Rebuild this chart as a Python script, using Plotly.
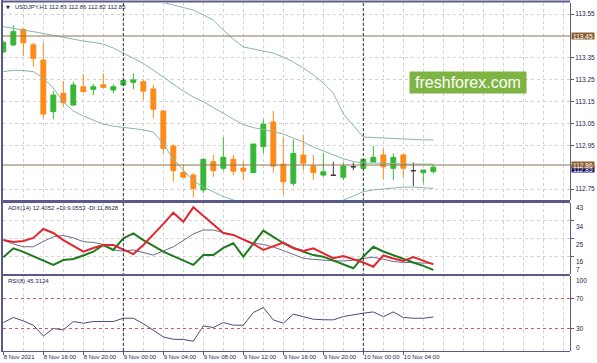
import plotly.graph_objects as go
import pandas as pd

# ---------------- data ----------------
symbol_title = "USDJPY,H1 112.83 112.86 112.82 112.85"
adx_title = "ADX(14) 12.4052 +DI:9.0553 -DI:11.8628"
rsi_title = "RSI(8) 45.3124"
watermark = "freshforex.com"

opens = [113.378, 113.409, 113.481, 113.410, 113.340, 113.104, 113.188, 113.134, 113.218, 113.206,
         113.227, 113.203, 113.226, 113.238, 113.241, 113.208, 113.107, 112.947, 112.826, 112.814,
         112.746, 112.875, 112.845, 112.886, 112.846, 112.825, 112.944, 113.057, 112.864, 112.776,
         112.906, 112.855, 112.814, 112.813, 112.804, 112.852, 112.845, 112.874, 112.906, 112.845,
         112.906, 112.834, 112.825, 112.830]
highs = [113.428, 113.500, 113.485, 113.419, 113.421, 113.198, 113.244, 113.241, 113.275, 113.230,
         113.279, 113.230, 113.256, 113.279, 113.249, 113.226, 113.111, 112.955, 112.864, 112.822,
         112.891, 112.906, 112.987, 112.906, 112.875, 112.956, 113.069, 113.107, 112.987, 112.977,
         112.997, 112.906, 112.913, 112.875, 112.872, 112.872, 112.886, 112.948, 112.936, 112.913,
         112.913, 112.872, 112.837, 112.860]
lows = [113.372, 113.404, 113.359, 113.310, 113.074, 113.069, 113.127, 113.134, 113.195, 113.179,
        113.211, 113.188, 113.226, 113.206, 113.157, 113.074, 112.913, 112.784, 112.804, 112.712,
        112.733, 112.806, 112.834, 112.814, 112.791, 112.825, 112.913, 112.825, 112.723, 112.764,
        112.834, 112.791, 112.806, 112.813, 112.791, 112.837, 112.845, 112.874, 112.794, 112.791,
        112.804, 112.764, 112.776, 112.820]
closes = [113.421, 113.470, 113.419, 113.348, 113.093, 113.180, 113.145, 113.226, 113.195, 113.218,
          113.215, 113.218, 113.247, 113.249, 113.198, 113.115, 112.936, 112.834, 112.804, 112.753,
          112.886, 112.834, 112.895, 112.832, 112.832, 112.956, 113.047, 112.855, 112.783, 112.913,
          112.868, 112.825, 112.829, 112.813, 112.855, 112.852, 112.886, 112.895, 112.852, 112.895,
          112.845, 112.834, 112.837, 112.850]

bb_upper = [113.700, 113.700, 113.700, 113.700, 113.690, 113.690, 113.680, 113.670, 113.660, 113.655,
            113.650, 113.645, 113.640, 113.635, 113.625, 113.615, 113.603, 113.592, 113.580, 113.569,
            113.546, 113.523, 113.477, 113.436, 113.400, 113.391, 113.381, 113.372, 113.354, 113.331,
            113.304, 113.272, 113.235, 113.189, 113.093, 113.038, 112.988, 112.986, 112.983, 112.981,
            112.979, 112.977, 112.975, 112.975]
bb_middle = [113.493, 113.484, 113.477, 113.470, 113.461, 113.452, 113.442, 113.434, 113.427, 113.421,
             113.413, 113.395, 113.371, 113.349, 113.325, 113.294, 113.262, 113.226, 113.198, 113.171,
             113.149, 113.123, 113.095, 113.070, 113.045, 113.031, 113.022, 113.013, 113.002, 112.983,
             112.965, 112.942, 112.924, 112.906, 112.889, 112.876, 112.869, 112.869, 112.869, 112.867,
             112.864, 112.864, 112.864, 112.864]
bb_lower = [113.287, 113.293, 113.292, 113.287, 113.258, 113.212, 113.148, 113.107, 113.084, 113.066,
            113.047, 113.038, 113.032, 113.027, 113.021, 113.011, 112.956, 112.887, 112.837, 112.787,
            112.759, 112.736, 112.716, 112.700, 112.686, 112.672, 112.662, 112.655, 112.650, 112.648,
            112.648, 112.652, 112.662, 112.682, 112.700, 112.718, 112.738, 112.746, 112.750, 112.755,
            112.759, 112.759, 112.757, 112.753]

adx = [24.2, 22.2, 20.8, 20.8, 23.5, 25.9, 26.5, 25.3, 23.4, 23.0,
       22.0, 19.2, 18.6, 19.2, 17.9, 16.6, 18.7, 20.8, 24.0, 27.3,
       29.3, 29.3, 28.0, 26.8, 24.7, 22.6, 22.0, 20.7, 18.9, 16.9,
       15.0, 14.4, 14.0, 13.7, 13.6, 14.0, 14.9, 15.5, 14.5, 13.3,
       12.9, 12.7, 12.5, 12.41]
plus_di = [15.5, 20.0, 18.2, 16.1, 14.1, 11.6, 14.1, 14.6, 16.4, 18.3,
           21.7, 19.2, 25.1, 27.6, 24.2, 21.4, 18.3, 16.1, 13.8, 11.6,
           16.6, 16.6, 20.2, 22.6, 15.8, 22.2, 29.0, 25.8, 22.6, 20.2,
           18.3, 16.6, 15.8, 13.8, 11.8, 9.9, 15.9, 20.8, 18.4, 16.4,
           14.6, 12.8, 11.1, 9.06]
minus_di = [24.2, 23.2, 23.7, 25.3, 29.8, 27.8, 24.2, 21.2, 18.3, 20.2,
            21.7, 21.7, 19.2, 17.1, 21.7, 26.8, 32.4, 38.1, 33.5, 40.8,
            36.4, 31.8, 27.8, 26.8, 24.7, 22.2, 19.2, 21.2, 22.9, 20.2,
            18.7, 20.0, 17.6, 15.0, 16.1, 14.6, 12.8, 10.7, 16.4, 14.9,
            13.6, 15.6, 13.8, 11.86]
rsi = [38.0, 44.7, 40.1, 34.4, 20.1, 30.0, 28.1, 39.3, 37.1, 39.3,
       39.3, 39.3, 43.7, 43.7, 36.4, 27.7, 18.8, 15.7, 15.3, 13.1,
       33.5, 31.3, 38.0, 34.4, 34.4, 51.3, 58.0, 41.5, 37.1, 49.1,
       45.7, 42.4, 41.7, 41.5, 46.0, 48.4, 50.4, 52.1, 45.7, 52.1,
       44.7, 43.7, 43.7, 45.31]

times = pd.date_range("2021-11-08 12:00", periods=len(opens), freq="h")

x_tick_times = pd.date_range("2021-11-08 12:00", "2021-11-10 04:00", freq="4h")
x_tick_labels = ["8 Nov 2021", "8 Nov 16:00", "8 Nov 20:00", "9 Nov 00:00", "9 Nov 04:00",
                 "9 Nov 08:00", "9 Nov 12:00", "9 Nov 16:00", "9 Nov 20:00", "10 Nov 00:00",
                 "10 Nov 04:00"]
price_ticks = [113.55, 113.35, 113.25, 113.15, 113.05, 112.95, 112.75]
level_lines = [113.45, 112.86]
bid_price = 112.85
adx_labels = [43, 34, 25, 16, 7]
adx_grid = [34, 25, 16]
rsi_levels = [70, 30]
rsi_labels = [100, 70, 30, 0]
day_separators = ["2021-11-09 00:00", "2021-11-10 00:00"]
x_range = ["2021-11-08 11:58", "2021-11-10 20:40"]
price_range = [112.700, 113.601]
adx_range = [7, 43]
rsi_range = [0, 100]

# ---------------- styling ----------------
W, H = 597, 363
ML, MR, MT, MB = 3, 27, 3, 12
FONT = "Liberation Sans, Arial, sans-serif"
TXT = "#24244f"
FRAME = "#5b5b8a"
GRID = "#d2d2d2"
BULL = "#36b836"
BEAR = "#ff8a1a"
DOJI = "#3a3a3a"
BAND = "#86b8a5"


def px_x(x):
    return (x - ML) / (W - ML - MR)


def px_y(y):
    return (H - MB - y) / (H - MT - MB)


is_doji = [o == c for o, c in zip(opens, closes)]


def pick(seq, flag):
    return [v for v, d in zip(seq, is_doji) if d == flag]


fig = go.Figure()

fig.add_trace(go.Candlestick(
    x=pick(times, False), open=pick(opens, False), high=pick(highs, False),
    low=pick(lows, False), close=pick(closes, False),
    increasing=dict(line=dict(color=BULL, width=1), fillcolor=BULL),
    decreasing=dict(line=dict(color=BEAR, width=1), fillcolor=BEAR),
    xaxis="x", yaxis="y", showlegend=False, hoverinfo="skip"))
fig.add_trace(go.Candlestick(
    x=pick(times, True), open=pick(opens, True), high=pick(highs, True),
    low=pick(lows, True), close=pick(closes, True),
    increasing=dict(line=dict(color=DOJI, width=1), fillcolor=DOJI),
    decreasing=dict(line=dict(color=DOJI, width=1), fillcolor=DOJI),
    xaxis="x", yaxis="y", showlegend=False, hoverinfo="skip"))

for band in (bb_upper, bb_middle, bb_lower):
    fig.add_trace(go.Scatter(x=times, y=band, mode="lines", line=dict(color=BAND, width=1),
                             xaxis="x", yaxis="y", showlegend=False, hoverinfo="skip"))

fig.add_trace(go.Scatter(x=times, y=adx, mode="lines", line=dict(color="#6a6a8e", width=1),
                         xaxis="x", yaxis="y2", showlegend=False, hoverinfo="skip"))
fig.add_trace(go.Scatter(x=times, y=plus_di, mode="lines", line=dict(color="#1d7a1d", width=2),
                         xaxis="x", yaxis="y2", showlegend=False, hoverinfo="skip"))
fig.add_trace(go.Scatter(x=times, y=minus_di, mode="lines", line=dict(color="#e52530", width=2),
                         xaxis="x", yaxis="y2", showlegend=False, hoverinfo="skip"))

fig.add_trace(go.Scatter(x=times, y=rsi, mode="lines", line=dict(color="#4a4a7c", width=1),
                         xaxis="x", yaxis="y3", showlegend=False, hoverinfo="skip"))

shapes = []
for lv in level_lines:
    shapes.append(dict(type="line", xref="paper", yref="y", x0=0, x1=1, y0=lv, y1=lv,
                       line=dict(color="#8c7650", width=1)))
for lv in rsi_levels:
    shapes.append(dict(type="line", xref="paper", yref="y3", x0=0, x1=1, y0=lv, y1=lv,
                       line=dict(color="#cc5a5a", width=1, dash="dot")))
for d in day_separators:
    shapes.append(dict(type="line", xref="x", yref="paper", x0=d, x1=d, y0=0, y1=1,
                       line=dict(color="#333333", width=1, dash="3px,2px")))
# frame lines (MetaTrader style panel borders)
shapes += [
    dict(type="line", xref="paper", yref="paper", x0=px_x(1), x1=px_x(570), y0=px_y(1.5), y1=px_y(1.5),
         line=dict(color=FRAME, width=2)),
    dict(type="line", xref="paper", yref="paper", x0=px_x(2), x1=px_x(2), y0=px_y(0), y1=px_y(351),
         line=dict(color=FRAME, width=2)),
    dict(type="line", xref="paper", yref="paper", x0=px_x(1), x1=px_x(570), y0=px_y(201.5), y1=px_y(201.5),
         line=dict(color=FRAME, width=3)),
    dict(type="line", xref="paper", yref="paper", x0=px_x(1), x1=px_x(570), y0=px_y(275), y1=px_y(275),
         line=dict(color=FRAME, width=2)),
    dict(type="line", xref="paper", yref="paper", x0=px_x(1), x1=px_x(570), y0=px_y(351.5), y1=px_y(351.5),
         line=dict(color=FRAME, width=1)),
]

ann = []
small = dict(family=FONT, size=6.5, color=TXT)
head = dict(family=FONT, size=6, color=TXT)
ann.append(dict(text="▼", x=px_x(8), y=px_y(7), xref="paper", yref="paper", showarrow=False,
                xanchor="center", yanchor="middle",
                font=dict(family="DejaVu Sans", size=5, color=TXT)))
ann.append(dict(text=symbol_title, x=px_x(13), y=px_y(7), xref="paper", yref="paper", showarrow=False,
                xanchor="left", yanchor="middle", font=head))
ann.append(dict(text=adx_title, x=px_x(6), y=px_y(208.5), xref="paper", yref="paper", showarrow=False,
                xanchor="left", yanchor="middle", font=head))
ann.append(dict(text=rsi_title, x=px_x(6), y=px_y(281), xref="paper", yref="paper", showarrow=False,
                xanchor="left", yanchor="middle", font=head))
ann.append(dict(text=watermark, x=px_x(468), y=px_y(82), xref="paper", yref="paper", showarrow=False,
                xanchor="center", yanchor="middle",
                font=dict(family=FONT, size=16, color="white"), bgcolor="#7db443",
                width=116, height=21, borderpad=0))
# price boxes
ann.append(dict(text=f"{bid_price:.2f}", x=1, y=bid_price, xref="paper", yref="y", showarrow=False,
                xanchor="left", yanchor="middle", xshift=1, yshift=-2,
                font=dict(family=FONT, size=6.5, color="white"),
                bgcolor="#14146e", width=22, height=6, borderpad=0))
for lv in level_lines:
    ann.append(dict(text=f"{lv:.2f}", x=1, y=lv, xref="paper", yref="y", showarrow=False,
                    xanchor="left", yanchor="middle", xshift=1,
                    font=dict(family=FONT, size=6.5, color="white"),
                    bgcolor="#8d6030", width=22, height=6, borderpad=0))
# ADX scale labels (MetaTrader places them just below their level)
for v in adx_labels:
    shift = -5.5
    if v == adx_range[1]:
        shift = -4
    if v == adx_range[0]:
        shift = 4.5
    ann.append(dict(text=str(v), x=1, y=v, xref="paper", yref="y2", showarrow=False,
                    xanchor="left", yanchor="middle", xshift=4, yshift=shift, font=small))
for v in rsi_labels:
    shift = 0
    if v == rsi_range[1]:
        shift = -4
    if v == rsi_range[0]:
        shift = 4
    ann.append(dict(text=str(v), x=1, y=v, xref="paper", yref="y3", showarrow=False,
                    xanchor="left", yanchor="middle", xshift=4, yshift=shift, font=small))

fig.update_layout(
    width=W, height=H, margin=dict(l=ML, r=MR, t=MT, b=MB),
    paper_bgcolor="white", plot_bgcolor="white",
    font=dict(family=FONT, size=6.5, color=TXT),
    showlegend=False, shapes=shapes, annotations=ann,
    xaxis=dict(domain=[0, 1], anchor="y3", type="date", range=x_range,
               tickmode="array", tickvals=x_tick_times, ticktext=x_tick_labels, tickangle=0,
               ticklabelposition="outside right", ticks="outside", ticklen=3, tickcolor=FRAME,
               tickfont=dict(family=FONT, size=6, color=TXT),
               showgrid=True, gridcolor=GRID, griddash="dot", gridwidth=1,
               minor=dict(tickmode="linear", tick0="2021-11-08 00:00", dtick=7200000,
                          showgrid=True, gridcolor=GRID, griddash="dot", ticks=""),
               rangeslider=dict(visible=False), showline=False, zeroline=False),
    yaxis=dict(domain=[px_y(200), 1], range=price_range, side="right", anchor="x",
               tickmode="array", tickvals=price_ticks, ticktext=[f"{v:.2f}" for v in price_ticks],
               ticks="outside", ticklen=3, tickcolor=FRAME,
               tickfont=dict(family=FONT, size=6.5, color=TXT),
               showgrid=True, gridcolor=GRID, griddash="dot",
               showline=True, linecolor=FRAME, linewidth=1, zeroline=False),
    yaxis2=dict(domain=[px_y(274), px_y(203)], range=adx_range, side="right", anchor="x",
                tickmode="array", tickvals=adx_grid, showticklabels=False,
                ticks="outside", ticklen=3, tickcolor=FRAME,
                showgrid=True, gridcolor=GRID, griddash="dot",
                showline=True, linecolor=FRAME, linewidth=1, zeroline=False),
    yaxis3=dict(domain=[0, px_y(276)], range=rsi_range, side="right", anchor="x",
                tickmode="array", tickvals=rsi_levels, showticklabels=False,
                ticks="outside", ticklen=3, tickcolor=FRAME,
                showgrid=False, showline=True, linecolor=FRAME, linewidth=1, zeroline=False),
)

fig.write_html("out.html", config={"displayModeBar": False},
               post_script="document.body.style.margin='0';document.body.style.overflow='hidden';")
